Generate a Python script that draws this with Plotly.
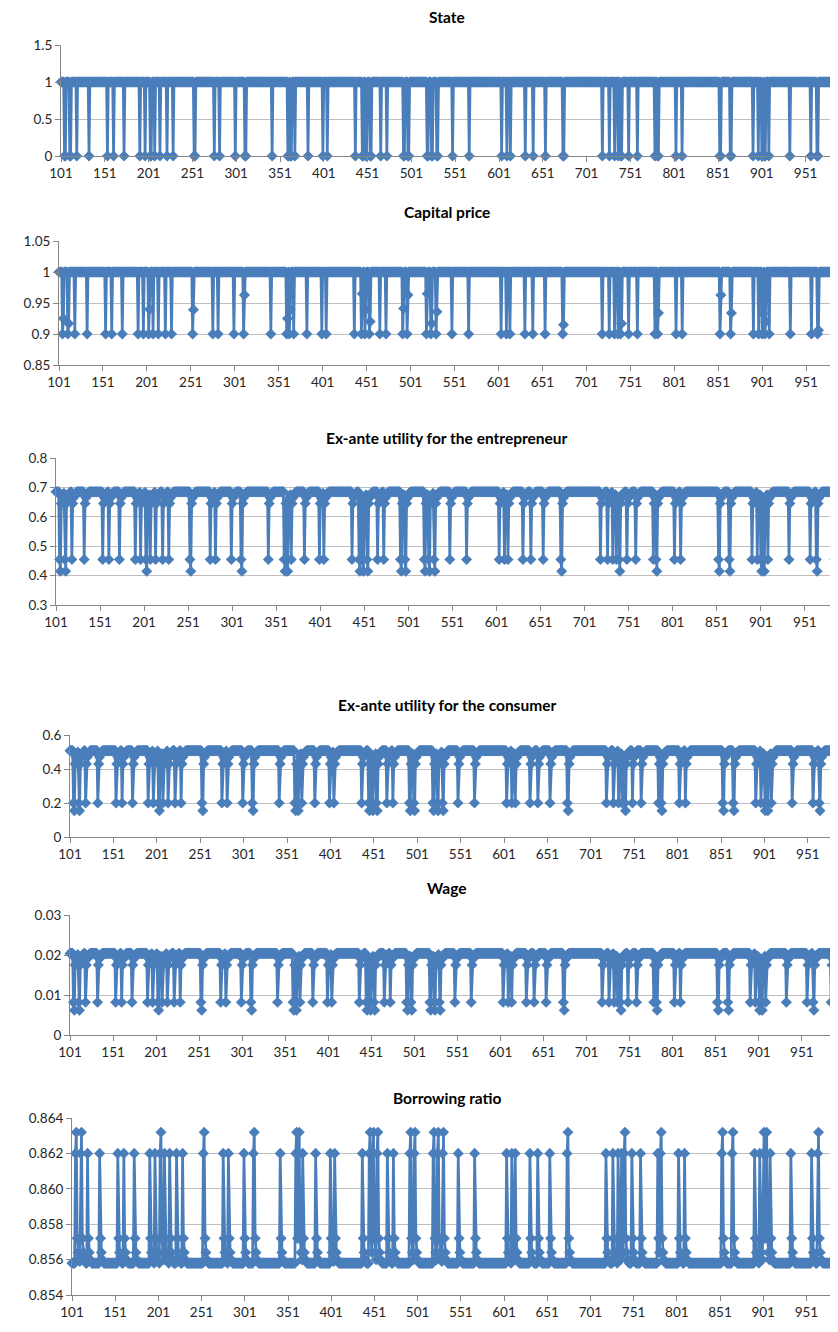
import plotly.graph_objects as go

# ---------------- data ----------------
periods = list(range(101, 1001))
tick_values = list(range(101, 1000, 50))

# periods in which the state is 0 (crisis)
crisis_periods = [105, 111, 119, 133, 154, 161, 173, 191, 197, 203, 208, 214, 222, 229,
                  253, 276, 282, 300, 311, 342, 360, 363, 368, 383,
                  400, 405, 437, 445, 449, 454, 466, 473, 492, 497, 519, 524, 530, 548,
                  567, 604, 610, 614, 631, 640, 654, 674, 719, 727, 733, 737, 740, 749,
                  759, 779, 782, 803, 810, 853, 865, 891, 897, 901, 904, 909, 933, 957,
                  964, 985, 995]
# follow-on crisis periods (second period of a crisis) and their capital price
second_periods = [106, 112, 204, 254, 312, 361, 364, 446, 450, 455, 493, 498, 520, 525,
                  531, 675, 741, 783, 854, 866, 902, 905, 965]
second_price = [0.925, 0.917, 0.94, 0.939, 0.963, 0.925, 0.939, 0.965, 0.939, 0.92, 0.941,
                0.963, 0.965, 0.917, 0.936, 0.915, 0.917, 0.934, 0.963, 0.934, 0.933,
                0.92, 0.906]

crisis_price = 0.9
normal_price = 1.0

# values in a crisis period, a follow-on crisis period, then recovery path
ent_crisis, ent_deep = 0.455, 0.415
ent_recovery = [0.645, 0.665, 0.675, 0.68, 0.683, 0.685]
con_crisis, con_deep = 0.20, 0.155
con_recovery = [0.43, 0.47, 0.49, 0.5, 0.505, 0.508]
wage_crisis, wage_deep = 0.0082, 0.0062
wage_recovery = [0.0175, 0.019, 0.0197, 0.0201, 0.0203, 0.0204]
bor_crisis, bor_deep = 0.8620, 0.8632
bor_recovery = [0.8572, 0.8564, 0.8560, 0.8559, 0.8558]

# ---------------- build series ----------------
zero_set = set(crisis_periods) | set(second_periods)
price_map = dict(zip(second_periods, second_price))


def build(crisis_v, deep_v, recovery):
    out = []
    last = None
    for p in periods:
        if p in zero_set:
            out.append(deep_v if (p - 1) in zero_set else crisis_v)
            last = p
        else:
            if last is None:
                out.append(recovery[-1])
            else:
                k = p - last - 1
                out.append(recovery[k] if k < len(recovery) else recovery[-1])
    return out


state = [0 if p in zero_set else 1 for p in periods]
capital = [price_map.get(p, crisis_price) if p in zero_set else normal_price for p in periods]
ent = build(ent_crisis, ent_deep, ent_recovery)
con = build(con_crisis, con_deep, con_recovery)
wage = build(wage_crisis, wage_deep, wage_recovery)
bor = build(bor_crisis, bor_deep, bor_recovery)

# ---------------- layout ----------------
PAGE_W, PAGE_H = 838, 1332
OFF = 8                      # page body margin
W, H = PAGE_W - OFF, PAGE_H - OFF
BLUE = "#4A7EBB"
panels = [
    # title, series, x_left px, px/period, top px, bottom px, yrange, dtick, title y px, tickformat
    ("State", state, 61, 0.876, 45, 156, [0, 1.5], 0.5, 17, None),
    ("Capital price", capital, 59, 0.879, 241, 365, [0.85, 1.05], 0.05, 212, None),
    ("Ex-ante utility for the entrepreneur", ent, 56, 0.881, 458, 605, [0.3, 0.8], 0.1, 438, None),
    ("Ex-ante utility for the consumer", con, 70, 0.868, 735, 837, [0, 0.6], 0.2, 705, None),
    ("Wage", wage, 70, 0.861, 915, 1035, [0, 0.03], 0.01, 888, None),
    ("Borrowing ratio", bor, 72, 0.864, 1118, 1295, [0.854, 0.864], 0.002, 1098, ".3f"),
]

fig = go.Figure()
layout = dict(width=W, height=H, margin=dict(l=0, r=0, t=0, b=0, pad=0, autoexpand=False),
              paper_bgcolor="white", plot_bgcolor="white", showlegend=False,
              font=dict(family="Lato, Open Sans, sans-serif", size=13.5, color="#262626"),
              annotations=[])

for i, (title, ys, xl, ppp, top, bot, yr, dt, ty, tf) in enumerate(panels, start=1):
    xa = "x" if i == 1 else f"x{i}"
    ya = "y" if i == 1 else f"y{i}"
    fig.add_trace(go.Scatter(x=periods, y=ys, xaxis=xa, yaxis=ya, mode="lines+markers",
                             line=dict(color=BLUE, width=2.7),
                             marker=dict(symbol="diamond", size=8.5, color=BLUE),
                             cliponaxis=False))
    xmax = 101 + (PAGE_W - xl) / ppp
    layout[f"xaxis{'' if i == 1 else i}"] = dict(
        domain=[(xl - OFF) / W, 1], anchor=ya, range=[101, xmax], automargin=False,
        tickmode="array", tickvals=tick_values, ticktext=[str(v) for v in tick_values],
        ticks="outside", ticklen=5, tickcolor="#868686", showline=True,
        linecolor="#868686", linewidth=1, showgrid=False, zeroline=False)
    ydict = dict(domain=[1 - (bot - OFF) / H, 1 - (top - OFF) / H], anchor=xa, range=yr,
                 dtick=dt, tick0=yr[0], automargin=False,
                 ticks="outside", ticklen=5, tickcolor="#868686", showline=True,
                 linecolor="#868686", linewidth=1, showgrid=True, gridcolor="#BFBFBF",
                 gridwidth=1, zeroline=False)
    if tf:
        ydict["tickformat"] = tf
    layout[f"yaxis{'' if i == 1 else i}"] = ydict
    layout["annotations"].append(dict(
        text=f"<b>{title}</b>", x=(447 - OFF) / W, y=1 - (ty - OFF) / H, xref="paper",
        yref="paper", xanchor="center", yanchor="middle", showarrow=False,
        font=dict(family="Lato, Open Sans, sans-serif", size=15.5, color="#000000")))

fig.update_layout(**layout)
fig.write_html("out.html")
